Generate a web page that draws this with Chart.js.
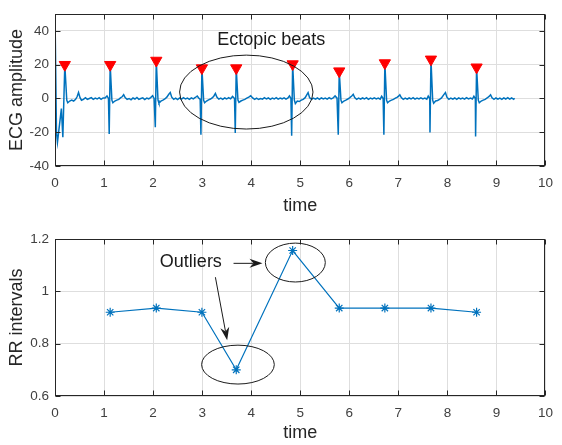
<!DOCTYPE html>
<html>
<head>
<meta charset="utf-8">
<script src="https://cdn.jsdelivr.net/npm/chart.js@4.4.0/dist/chart.umd.min.js"></script>
<style>
  html, body { margin: 0; padding: 0; background: #fff; }
  #wrap { position: relative; width: 562px; height: 445px; }
  canvas { position: absolute; left: 0; }
</style>
</head>
<body>
<div id="wrap">
  <canvas id="ecgChart" width="562" height="217" style="top:0"></canvas>
  <canvas id="rrChart" width="562" height="228" style="top:217px"></canvas>
</div>
<script>
// --- data ---
const timeTicks = [0, 1, 2, 3, 4, 5, 6, 7, 8, 9, 10];
const ecgTicks = [-40, -20, 0, 20, 40];
const rrTicks = [0.6, 0.8, 1, 1.2];

// ECG trace: [time, amplitude]
const ecgSamples = [
  [0, 50], [0.03, -20], [0.05, -26], [0.13, -6], [0.16, -23], [0.20, 20], [0.24, -1], [0.26, -2.5],
  [0.30, -1.5], [0.34, -1], [0.38, -1.5], [0.42, -0.5], [0.45, 1], [0.48, 3.5], [0.51, 0.5], [0.54, -1],
  [0.58, -0.5], [0.62, 0.5], [0.66, -0.5], [0.70, 0], [0.74, 0.5], [0.78, -0.5], [0.82, 0.2], [0.86, -0.3],
  [0.90, 0.5], [0.94, -0.5], [0.98, 0.3], [1.02, 0.3], [1.06, 1.5], [1.09, 0],
  [1.105, -21], [1.125, 20], [1.16, -1], [1.18, -2.5], [1.22, -1.5], [1.26, -1], [1.30, -0.5], [1.34, 0.5],
  [1.37, 1], [1.40, 2.2], [1.43, 0.5], [1.47, -0.5], [1.51, 0], [1.55, -0.8], [1.59, 0.3], [1.63, -0.3],
  [1.67, 0.6], [1.71, -0.5], [1.75, 0], [1.79, 0.4], [1.83, -0.6], [1.87, 0.2], [1.91, -0.2], [1.95, 0.5],
  [1.99, 1.6], [2.02, 0],
  [2.045, -17], [2.065, 22.5], [2.10, -1], [2.12, -2.8], [2.16, -1.5], [2.20, -1], [2.24, -0.3], [2.28, 0.8],
  [2.32, 2.5], [2.35, 3.5], [2.38, 0.8], [2.42, -0.5], [2.46, 0.2], [2.50, -0.6], [2.54, 0.3], [2.58, -0.4],
  [2.62, 0.5], [2.66, -0.3], [2.70, 0.2], [2.74, -0.5], [2.78, 0.4], [2.82, -0.2], [2.86, 0.6], [2.90, 1.5],
  [2.93, 0.3], [2.96, -0.5],
  [2.975, -21.5], [2.995, 18], [3.03, -1], [3.05, -2.5], [3.09, -1.5], [3.13, -0.8], [3.17, -0.3], [3.21, 0.5],
  [3.24, 1.5], [3.27, 3], [3.30, 0.8], [3.34, -0.4], [3.38, 0.2], [3.42, -0.5], [3.46, 0.3], [3.50, -0.3],
  [3.54, 0.5], [3.58, -0.2], [3.62, 1.2], [3.66, 0],
  [3.675, -20.5], [3.695, 18], [3.73, -1], [3.75, -2.3], [3.79, -1.5], [3.83, -1], [3.87, -0.5], [3.91, 0.2],
  [3.95, 0.8], [3.99, 1.6], [4.03, 0.3], [4.07, -0.5], [4.11, 0.2], [4.15, -0.6], [4.19, 0], [4.23, -0.4],
  [4.27, 0.5], [4.31, -0.3], [4.35, 0.3], [4.39, -0.5], [4.43, 0.2], [4.47, -0.3], [4.51, 0.5], [4.55, -0.4],
  [4.59, 0.2], [4.63, -0.2], [4.67, 0.4], [4.71, -0.4], [4.75, 0.3], [4.78, 1.5], [4.81, 0],
  [4.825, -22], [4.845, 20.4], [4.88, -1], [4.90, -3], [4.94, -1.5], [4.98, -1.8], [5.02, -1], [5.06, -0.5],
  [5.10, 0.5], [5.13, 2], [5.16, 3.5], [5.19, 0.5], [5.23, -0.5], [5.27, 0.2], [5.31, -0.4], [5.35, 0.3],
  [5.39, -0.5], [5.43, 0.4], [5.47, -0.3], [5.51, 0.2], [5.55, -0.4], [5.59, 0.5], [5.63, -0.2], [5.67, 0.3],
  [5.71, 1.5], [5.75, 0.2],
  [5.775, -21.5], [5.795, 16.2], [5.83, -1], [5.85, -2.5], [5.89, -1.5], [5.93, -1], [5.97, -0.3], [6.01, 0.5],
  [6.05, 1.5], [6.08, 2.5], [6.11, 0.5], [6.15, -0.5], [6.19, 0.2], [6.23, -0.4], [6.27, 0.3], [6.31, -0.3],
  [6.35, 0.5], [6.39, -0.5], [6.43, 0.2], [6.47, -0.3], [6.51, 0.4], [6.55, -0.2], [6.59, 0.3], [6.63, -0.4],
  [6.66, 1.3], [6.69, 0],
  [6.705, -21.5], [6.725, 21], [6.76, -1], [6.78, -2.5], [6.82, -1.5], [6.86, -1], [6.90, -0.5], [6.94, 0.2],
  [6.98, 0.8], [7.01, 1.5], [7.03, 2.2], [7.06, 0.5], [7.10, -0.5], [7.14, 0.2], [7.18, -0.4], [7.22, 0.3],
  [7.26, -0.3], [7.30, 0.5], [7.34, -0.4], [7.38, 0.2], [7.42, -0.3], [7.46, 0.4], [7.50, -0.2], [7.54, 0.3],
  [7.58, -0.4], [7.61, 1.4], [7.64, 0],
  [7.645, -20.2], [7.665, 23.2], [7.70, -1], [7.72, -2.8], [7.76, -1.5], [7.80, -1.2], [7.84, -0.5], [7.88, 0.3],
  [7.92, 2], [7.96, 3.5], [7.99, 0.8], [8.03, -0.5], [8.07, 0.2], [8.11, -0.4], [8.15, 0.3], [8.19, -0.5],
  [8.23, 0.4], [8.27, -0.3], [8.31, 0.2], [8.35, -0.4], [8.39, 0.5], [8.43, -0.2], [8.47, 0.3], [8.51, -0.3],
  [8.54, 1.3], [8.57, 0],
  [8.575, -22.5], [8.595, 18.5], [8.63, -1], [8.65, -2.5], [8.69, -1.5], [8.73, -1], [8.77, -0.5], [8.81, 0.3],
  [8.85, 1.2], [8.88, 2.2], [8.91, 0.4], [8.95, -0.5], [8.99, 0.3], [9.03, -0.4], [9.07, 0.2], [9.11, -0.5],
  [9.15, 0.4], [9.19, -0.3], [9.23, 0.5], [9.27, -0.4], [9.31, 0.3], [9.35, -0.5], [9.37, 0.2]
];

// detected R peaks
const peakTime = [0.20, 1.125, 2.065, 2.995, 3.695, 4.845, 5.795, 6.725, 7.665, 8.595];
const peakValue = [20, 20, 22.5, 18, 18, 20.4, 16.2, 21, 23.2, 18.5];

// RR intervals
const rrTime = [1.125, 2.065, 2.995, 3.695, 4.845, 5.795, 6.725, 7.665, 8.595];
const rrValue = [0.92, 0.936, 0.92, 0.70, 1.156, 0.936, 0.936, 0.936, 0.92];

// annotations (data coordinates)
const ecgNotes = {
  ellipses: [{ cx: 3.90, cy: 3.8, rx: 1.36, ry: 21.9 }],
  arrows: [],
  texts: [{ x: 4.41, y: 34.7, text: 'Ectopic beats' }]
};
const rrNotes = {
  ellipses: [{ cx: 3.73, cy: 0.72, rx: 0.741, ry: 0.0743 }, { cx: 4.90, cy: 1.110, rx: 0.611, ry: 0.0743 }],
  arrows: [{ x1: 3.64, y1: 1.107, x2: 4.23, y2: 1.107 }, { x1: 3.27, y1: 1.054, x2: 3.51, y2: 0.813 }],
  texts: [{ x: 2.77, y: 1.112, text: 'Outliers' }]
};

// --- styling ---
const FONT = "'Liberation Sans', Arial, Helvetica, sans-serif";
const BLUE = '#0072BD';
const AXIS = '#262626';
const GRID = '#dedede';

// box round the axes with inward ticks, like matlab
const framePlugin = {
  id: 'frame',
  afterDraw(chart) {
    const ctx = chart.ctx;
    const a = chart.chartArea;
    const l = Math.round(a.left) + 0.5, r = Math.round(a.right) - 0.5;
    const t = Math.round(a.top) + 0.5, b = Math.round(a.bottom) - 0.5;
    const tl = 5;
    ctx.save();
    ctx.strokeStyle = AXIS;
    ctx.lineWidth = 1;
    ctx.strokeRect(l, t, r - l, b - t);
    ctx.beginPath();
    chart.scales.x.ticks.forEach(tk => {
      const px = Math.round(chart.scales.x.getPixelForValue(tk.value)) + 0.5;
      ctx.moveTo(px, b); ctx.lineTo(px, b - tl);
      ctx.moveTo(px, t); ctx.lineTo(px, t + tl);
    });
    chart.scales.y.ticks.forEach(tk => {
      const py = Math.round(chart.scales.y.getPixelForValue(tk.value)) + 0.5;
      ctx.moveTo(l, py); ctx.lineTo(l + tl, py);
      ctx.moveTo(r, py); ctx.lineTo(r - tl, py);
    });
    ctx.stroke();
    ctx.restore();
  }
};

function drawArrow(ctx, x1, y1, x2, y2) {
  const ang = Math.atan2(y2 - y1, x2 - x1);
  const len = 13, half = 4.5, notch = 9;
  const cos = Math.cos(ang), sin = Math.sin(ang);
  ctx.beginPath();
  ctx.moveTo(x1, y1);
  ctx.lineTo(x2 - cos * notch, y2 - sin * notch);
  ctx.stroke();
  ctx.beginPath();
  ctx.moveTo(x2, y2);
  ctx.lineTo(x2 - cos * len - sin * half, y2 - sin * len + cos * half);
  ctx.lineTo(x2 - cos * notch, y2 - sin * notch);
  ctx.lineTo(x2 - cos * len + sin * half, y2 - sin * len - cos * half);
  ctx.closePath();
  ctx.fill();
}

const notesPlugin = {
  id: 'notes',
  afterDraw(chart, args, opts) {
    const notes = opts.notes;
    if (!notes) return;
    const ctx = chart.ctx, xs = chart.scales.x, ys = chart.scales.y;
    ctx.save();
    ctx.strokeStyle = '#1a1a1a';
    ctx.fillStyle = '#1a1a1a';
    ctx.lineWidth = 1;
    notes.ellipses.forEach(e => {
      const cx = xs.getPixelForValue(e.cx), cy = ys.getPixelForValue(e.cy);
      const rx = Math.abs(xs.getPixelForValue(e.cx + e.rx) - cx);
      const ry = Math.abs(ys.getPixelForValue(e.cy + e.ry) - cy);
      ctx.beginPath();
      ctx.ellipse(cx, cy, rx, ry, 0, 0, Math.PI * 2);
      ctx.stroke();
    });
    notes.arrows.forEach(a => {
      drawArrow(ctx, xs.getPixelForValue(a.x1), ys.getPixelForValue(a.y1),
        xs.getPixelForValue(a.x2), ys.getPixelForValue(a.y2));
    });
    ctx.font = '18px ' + FONT;
    ctx.textAlign = 'center';
    ctx.textBaseline = 'middle';
    notes.texts.forEach(tx => {
      ctx.fillText(tx.text, xs.getPixelForValue(tx.x), ys.getPixelForValue(tx.y));
    });
    ctx.restore();
  }
};

function xAxis(height) {
  return {
    type: 'linear', min: 0, max: 10,
    afterBuildTicks: s => { s.ticks = timeTicks.map(v => ({ value: v })); },
    afterFit: s => { s.height = height; },
    grid: { color: GRID, drawTicks: false },
    border: { display: false },
    ticks: { font: { family: FONT, size: 13.5 }, color: '#404040', padding: 9, autoSkip: false, maxRotation: 0, callback: v => String(v) },
    title: { display: true, text: 'time', font: { family: FONT, size: 18 }, color: AXIS, padding: { top: 0, bottom: 0 } }
  };
}

function yAxis(min, max, tickList, label) {
  return {
    min: min, max: max,
    afterBuildTicks: s => { s.ticks = tickList.map(v => ({ value: v })); },
    afterFit: s => { s.width = 55; },
    grid: { color: GRID, drawTicks: false },
    border: { display: false },
    ticks: { font: { family: FONT, size: 13.5 }, color: '#404040', padding: 6, callback: v => String(v) },
    title: { display: true, text: label, font: { family: FONT, size: 18 }, color: AXIS, padding: { top: 6, bottom: 0 } }
  };
}

// top: ECG with peaks
new Chart(document.getElementById('ecgChart'), {
  type: 'line',
  data: {
    datasets: [
      {
        data: ecgSamples.map(([x, y]) => ({ x, y })),
        borderColor: BLUE, borderWidth: 1.5, pointRadius: 0, tension: 0, order: 2
      },
      {
        data: peakTime.map((x, i) => ({ x, y: peakValue[i] })),
        showLine: false, pointStyle: 'triangle', rotation: 180, pointRadius: 6.5,
        backgroundColor: '#ff0000', borderColor: '#ff0000', borderWidth: 1, order: 1
      }
    ]
  },
  options: {
    responsive: false, animation: false,
    layout: { padding: { top: 8, right: 8, bottom: 0, left: 0 } },
    plugins: { legend: { display: false }, tooltip: { enabled: false }, notes: { notes: ecgNotes } },
    scales: { x: xAxis(51), y: yAxis(-40, 50, ecgTicks, 'ECG amplitude') }
  },
  plugins: [framePlugin, notesPlugin]
});

// bottom: RR intervals
new Chart(document.getElementById('rrChart'), {
  type: 'line',
  data: {
    datasets: [{
      data: rrTime.map((x, i) => ({ x, y: rrValue[i] })),
      borderColor: BLUE, backgroundColor: BLUE, borderWidth: 1.2, tension: 0,
      pointStyle: 'star', pointRadius: 4.5, pointBorderWidth: 1.2
    }]
  },
  options: {
    responsive: false, animation: false,
    layout: { padding: { top: 22, right: 8, bottom: 1, left: 0 } },
    plugins: { legend: { display: false }, tooltip: { enabled: false }, notes: { notes: rrNotes } },
    scales: { x: xAxis(48), y: yAxis(0.6, 1.2, rrTicks, 'RR intervals') }
  },
  plugins: [framePlugin, notesPlugin]
});
</script>
</body>
</html>
